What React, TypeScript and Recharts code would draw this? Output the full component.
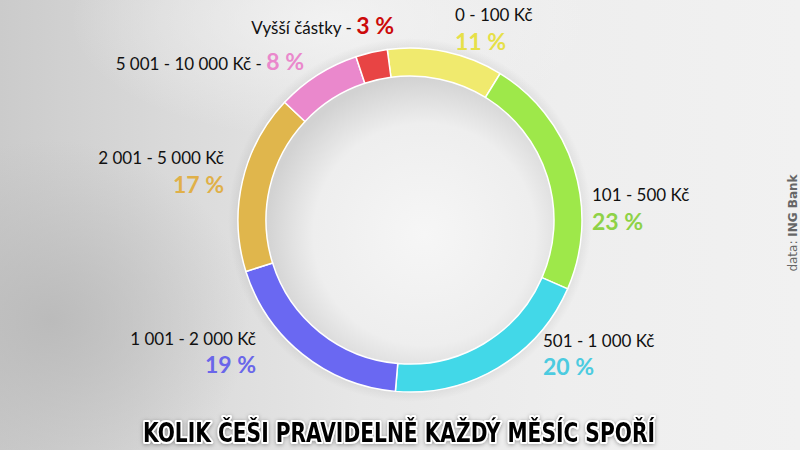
import React from 'react';
import { PieChart, Pie, Cell } from 'recharts';

const categories = [
  '0 - 100 Kč',
  '101 - 500 Kč',
  '501 - 1 000 Kč',
  '1 001 - 2 000 Kč',
  '2 001 - 5 000 Kč',
  '5 001 - 10 000 Kč',
  'Vyšší částky',
];
const shares = [11, 23, 20, 19, 17, 8, 3];
const percentLabels = ['11 %', '23 %', '20 %', '19 %', '17 %', '8 %', '3 %'];
const sliceColors = ['#f0ea6e', '#9ee84a', '#42d8e8', '#6a68f2', '#e0b64c', '#ea88cc', '#e84444'];
const labelColors = ['#e6e048', '#8ed247', '#4ccbe0', '#6a66ea', '#e0b048', '#ea88cc', '#cc0a0a'];
const titleText = 'KOLIK ČEŠI PRAVIDELNĚ KAŽDÝ MĚSÍC SPOŘÍ';
const sourcePrefix = 'data: ';
const sourceName = 'ING Bank';

const data = categories.map((name, i) => ({ name, value: shares[i], pct: percentLabels[i] }));
const innerData = [{ name: 'inner', value: 1 }];

// label layout relative to pie centre: [dx, nameDy, pctDy, anchor, inline]
const labelLayout: Array<[number, number, number, 'start' | 'end', boolean]> = [
  [45, -199, -170, 'start', false],
  [182, -19, 10, 'start', false],
  [133, 127, 155, 'start', false],
  [-154, 125, 153, 'end', false],
  [-186, -56, -27, 'end', false],
  [-106, -150, 0, 'end', true],
  [-16, -186, 0, 'end', true],
];

const FONT = 'Lato, "DejaVu Sans", sans-serif';

const renderLabel = (props: any) => {
  const { cx, cy, index } = props;
  const [dx, ndy, pdy, anchor, inline] = labelLayout[index];
  const x = cx + dx;
  if (inline) {
    return (
      <text x={x} y={cy + ndy} textAnchor={anchor} fontFamily={FONT}>
        <tspan fontSize={17} fill="#111">{categories[index]} - </tspan>
        <tspan fontSize={23} fontWeight={700} fill={labelColors[index]}>{percentLabels[index]}</tspan>
      </text>
    );
  }
  return (
    <g>
      <text x={x} y={cy + ndy} textAnchor={anchor} fontFamily={FONT} fontSize={17} fill="#111">
        {categories[index]}
      </text>
      <text x={x} y={cy + pdy} textAnchor={anchor} fontFamily={FONT} fontSize={23} fontWeight={700} fill={labelColors[index]}>
        {percentLabels[index]}
      </text>
    </g>
  );
};

export default function App() {
  return (
    <div
      style={{
        position: 'absolute',
        left: 0,
        top: 0,
        width: 800,
        height: 450,
        overflow: 'hidden',
        background:
          'radial-gradient(ellipse 260px 120px at 330px 20px, rgba(245,245,245,0.8), rgba(245,245,245,0) 100%), radial-gradient(ellipse 200px 180px at 50px 320px, rgba(185,185,185,0.9), rgba(185,185,185,0) 100%), linear-gradient(90deg, #cbcbcb 0%, #dadada 22%, #e7e7e7 45%, #eeeeee 70%, #f1f1f1 100%)',
      }}
    >
      <PieChart width={800} height={450} margin={{ top: 0, right: 0, bottom: 0, left: 0 }}>
        <defs>
          <radialGradient id="innerGrad" cx="55%" cy="55%" r="55%">
            <stop offset="0%" stopColor="#f6f6f6" />
            <stop offset="70%" stopColor="#eeeeee" />
            <stop offset="100%" stopColor="#d2d2d2" />
          </radialGradient>
          <radialGradient id="haloGrad" cx="50%" cy="50%" r="50%">
            <stop offset="88%" stopColor="#000" stopOpacity={0.12} />
            <stop offset="100%" stopColor="#000" stopOpacity={0} />
          </radialGradient>
        </defs>
        <Pie
          data={innerData}
          dataKey="value"
          cx={410}
          cy={220}
          innerRadius={0}
          outerRadius={182}
          stroke="none"
          fill="url(#haloGrad)"
          isAnimationActive={false}
        />
        <Pie
          data={innerData}
          dataKey="value"
          cx={410}
          cy={220}
          innerRadius={0}
          outerRadius={144}
          stroke="none"
          fill="url(#innerGrad)"
          isAnimationActive={false}
        />
        <Pie
          data={data}
          dataKey="value"
          nameKey="name"
          cx={410}
          cy={220}
          innerRadius={144}
          outerRadius={172}
          startAngle={97.6}
          endAngle={-262.4}
          stroke="#ffffff"
          strokeWidth={1.5}
          label={renderLabel}
          labelLine={false}
          isAnimationActive={false}
        >
          {data.map((d, i) => (
            <Cell key={d.name} fill={sliceColors[i]} />
          ))}
        </Pie>
      </PieChart>
      <svg width={800} height={450} style={{ position: 'absolute', left: 0, top: 0, pointerEvents: 'none' }}>
        <defs>
          <filter id="titleGlow" x="-5%" y="-50%" width="110%" height="200%">
            <feGaussianBlur in="SourceAlpha" stdDeviation="2" />
            <feOffset dx="0" dy="1" result="b" />
            <feFlood floodColor="#000" floodOpacity="0.35" />
            <feComposite in2="b" operator="in" />
            <feMerge>
              <feMergeNode />
              <feMergeNode in="SourceGraphic" />
            </feMerge>
          </filter>
        </defs>
        <text
          x={143}
          y={442}
          textLength={512}
          lengthAdjust="spacingAndGlyphs"
          fontFamily='"DejaVu Sans Condensed", "DejaVu Sans", sans-serif'
          fontWeight={700}
          fontSize={27}
          fill="#000"
          stroke="#ffffff"
          strokeWidth={4}
          strokeLinejoin="round"
          style={{ paintOrder: 'stroke' }}
          filter="url(#titleGlow)"
        >
          {titleText}
        </text>
        <text
          x={797}
          y={223}
          transform="rotate(-90 797 223)"
          textAnchor="middle"
          fontFamily='"DejaVu Sans", sans-serif'
          fontSize={12}
          fill="#666"
        >
          <tspan>{sourcePrefix}</tspan>
          <tspan fontWeight={700}>{sourceName}</tspan>
        </text>
      </svg>
    </div>
  );
}
